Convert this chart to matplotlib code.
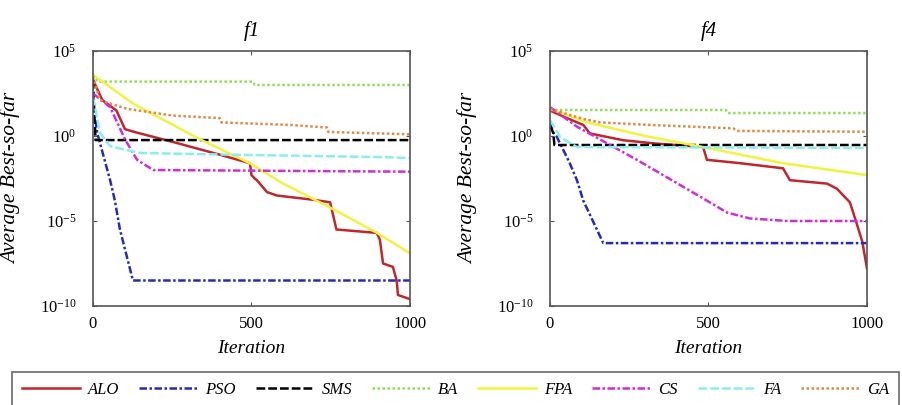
import matplotlib
matplotlib.use("Agg")
import matplotlib.pyplot as plt
import numpy as np
from matplotlib.ticker import FixedLocator, LogFormatterMathtext

plt.rcParams['font.family'] = ['Liberation Serif', 'DejaVu Serif']
plt.rcParams['mathtext.fontset'] = 'stix'

names = ['ALO', 'PSO', 'SMS', 'BA', 'FPA', 'CS', 'FA', 'GA']
colors = ['#c0262d', '#2828c0', '#000000', '#8ee05a', '#f2f240', '#d02cd8', '#88eef0', '#e0884a']
styles = ['-', (0, (3, 1, 1, 1)), (0, (3.5, 1.2)), (0, (1, 1)), '-', (0, (3, 1, 1, 1)), (0, (3.5, 1.2)), (0, (1, 1))]

# f1 curves: iteration, log10(best-so-far)
f1_alo_it = [0, 30, 74, 101, 138, 252, 400, 495, 500, 510, 517, 549, 580, 694, 748, 768, 895, 905, 915, 946, 958, 962, 1000]
f1_alo = [3.3, 2.1, 1.5, 0.4, 0.2, -0.35, -1.1, -1.6, -2.3, -2.5, -2.6, -3.3, -3.5, -3.75, -3.9, -5.5, -5.7, -6.1, -7.5, -7.7, -8.5, -9.35, -9.6]
f1_pso_it = [0, 6, 13, 54, 69, 85, 126, 1000]
f1_pso = [1.8, 1.2, 0.2, -2.6, -3.8, -5.5, -8.5, -8.5]
f1_sms_it = [0, 5, 8, 1000]
f1_sms = [3.3, 1.0, -0.24, -0.24]
f1_ba_it = [0, 15, 505, 510, 1000]
f1_ba = [3.6, 3.2, 3.2, 3.0, 3.0]
f1_fpa_it = [0, 127, 338, 495, 600, 757, 896, 1000]
f1_fpa = [3.6, 1.9, -0.2, -1.6, -2.8, -4.3, -5.7, -6.9]
f1_cs_it = [0, 54, 101, 139, 190, 1000]
f1_cs = [2.5, 1.7, -0.2, -1.4, -2.0, -2.1]
f1_fa_it = [0, 22, 54, 148, 442, 937, 1000]
f1_fa = [2.3, 0.2, -0.6, -1.0, -1.1, -1.25, -1.3]
f1_ga_it = [0, 22, 107, 252, 400, 405, 621, 738, 742, 1000]
f1_ga = [3.5, 2.1, 1.6, 1.2, 1.05, 0.8, 0.65, 0.5, 0.24, 0.1]

# f4 curves
f4_alo_it = [0, 60, 105, 126, 231, 337, 483, 495, 600, 735, 757, 874, 905, 946, 965, 985, 1000]
f4_alo = [1.5, 1.0, 0.65, 0.15, -0.25, -0.45, -0.65, -1.4, -1.6, -1.9, -2.6, -2.8, -3.1, -3.9, -5.0, -6.2, -7.8]
f4_pso_it = [0, 10, 20, 60, 85, 105, 168, 1000]
f4_pso = [0.8, 0.2, 0.0, -1.5, -2.6, -3.8, -6.3, -6.3]
f4_sms_it = [0, 10, 14, 1000]
f4_sms = [0.6, 0.2, -0.53, -0.53]
f4_ba_it = [0, 555, 560, 1000]
f4_ba = [1.53, 1.53, 1.35, 1.35]
f4_fpa_it = [0, 126, 300, 483, 735, 1000]
f4_fpa = [1.6, 0.76, 0.0, -0.65, -1.6, -2.3]
f4_cs_it = [0, 85, 274, 495, 558, 631, 750, 1000]
f4_cs = [1.7, 0.55, -1.4, -3.8, -4.5, -4.85, -5.0, -5.0]
f4_fa_it = [0, 32, 85, 1000]
f4_fa = [0.94, -0.06, -0.65, -0.7]
f4_ga_it = [0, 105, 158, 315, 578, 590, 1000]
f4_ga = [1.6, 1.0, 0.8, 0.65, 0.45, 0.3, 0.25]

f1_data = [(f1_alo_it, f1_alo), (f1_pso_it, f1_pso), (f1_sms_it, f1_sms), (f1_ba_it, f1_ba),
           (f1_fpa_it, f1_fpa), (f1_cs_it, f1_cs), (f1_fa_it, f1_fa), (f1_ga_it, f1_ga)]
f4_data = [(f4_alo_it, f4_alo), (f4_pso_it, f4_pso), (f4_sms_it, f4_sms), (f4_ba_it, f4_ba),
           (f4_fpa_it, f4_fpa), (f4_cs_it, f4_cs), (f4_fa_it, f4_fa), (f4_ga_it, f4_ga)]

fig = plt.figure(figsize=(9.03, 4.05), dpi=100)
ax1 = fig.add_axes([93 / 903, 99 / 405, 317 / 903, 255 / 405])
ax2 = fig.add_axes([550 / 903, 99 / 405, 317 / 903, 255 / 405])

lines = []
for ax, data, title in [(ax1, f1_data, 'f1'), (ax2, f4_data, 'f4')]:
    for i, (it, lv) in enumerate(data):
        ln, = ax.plot(it, 10.0 ** np.array(lv), color=colors[i], linestyle=styles[i],
                      linewidth=1.8, label=names[i])
        if ax is ax1:
            lines.append(ln)
    ax.set_yscale('log')
    ax.set_xlim(0, 1000)
    ax.set_ylim(1e-10, 1e5)
    ax.yaxis.set_major_locator(FixedLocator([1e-10, 1e-5, 1e0, 1e5]))
    ax.yaxis.set_major_formatter(LogFormatterMathtext())
    ax.yaxis.set_minor_locator(FixedLocator([]))
    ax.set_xticks([0, 500, 1000])
    ax.tick_params(direction='in', top=True, right=True, labelsize=12, length=3,
                   color='#555555')
    ax.tick_params(axis='y', pad=12)
    ax.tick_params(axis='x', pad=7)
    for sp in ax.spines.values():
        sp.set_color('#555555')
        sp.set_linewidth(1.2)
    ax.set_title(title, fontsize=15, style='italic', pad=11)
    ax.set_xlabel('Iteration', fontsize=14, style='italic', labelpad=6)
    ax.set_ylabel('Average Best-so-far', fontsize=15.5, style='italic')
    ax.yaxis.set_label_coords(-0.227, 0.5)

leg = fig.legend(handles=lines, loc='upper left', bbox_to_anchor=(12 / 903, 33 / 405),
                 ncol=8, fontsize=12, handlelength=3.5, handletextpad=0.45,
                 columnspacing=1.2, frameon=True, fancybox=False, borderpad=0.6,
                 borderaxespad=0)
leg.get_frame().set_edgecolor('#444444')
leg.get_frame().set_linewidth(1.2)
for t in leg.get_texts():
    t.set_style('italic')

fig.savefig('out.png', dpi=100)
